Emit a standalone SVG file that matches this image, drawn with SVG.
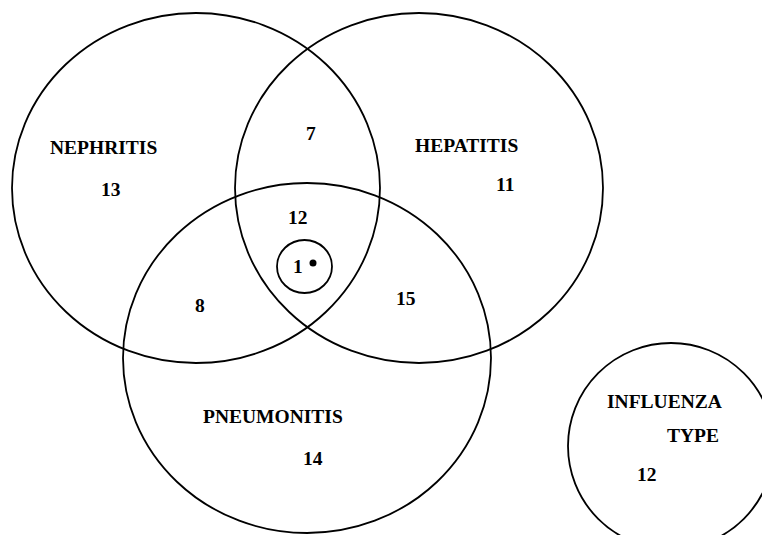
<svg xmlns="http://www.w3.org/2000/svg" width="762" height="535" viewBox="0 0 762 535">
<style>
.c{fill:none;stroke:#000;stroke-width:1.8}
text{font-family:"Liberation Serif","Times New Roman",serif;font-weight:bold;font-size:19.5px;fill:#000}
</style>
<rect width="762" height="535" fill="#fff"/>
<g id="nephritis"><ellipse class="c" cx="196" cy="188" rx="184" ry="175"/><text x="50" y="154">NEPHRITIS</text><text x="101" y="196">13</text></g>
<g id="hepatitis"><ellipse class="c" cx="419" cy="188" rx="184" ry="175"/><text x="415" y="152">HEPATITIS</text><text x="496" y="191">11</text></g>
<g id="pneumonitis"><ellipse class="c" cx="307" cy="358" rx="184" ry="175"/><text x="203" y="423">PNEUMONITIS</text><text x="303" y="465">14</text></g>
<g id="influenza"><ellipse class="c" cx="671" cy="446" rx="103" ry="103"/><text x="607" y="408">INFLUENZA</text><text x="667" y="442">TYPE</text><text x="637" y="481">12</text></g>
<g id="core"><ellipse class="c" cx="304.5" cy="266.5" rx="27.5" ry="26.5"/><circle cx="313" cy="263" r="3.5" fill="#000"/><text x="293" y="273">1</text></g>
<g id="regions"><text x="306" y="140">7</text><text x="288" y="224">12</text><text x="195" y="312">8</text><text x="396" y="305">15</text></g>
<g id="connectors"/>
</svg>
